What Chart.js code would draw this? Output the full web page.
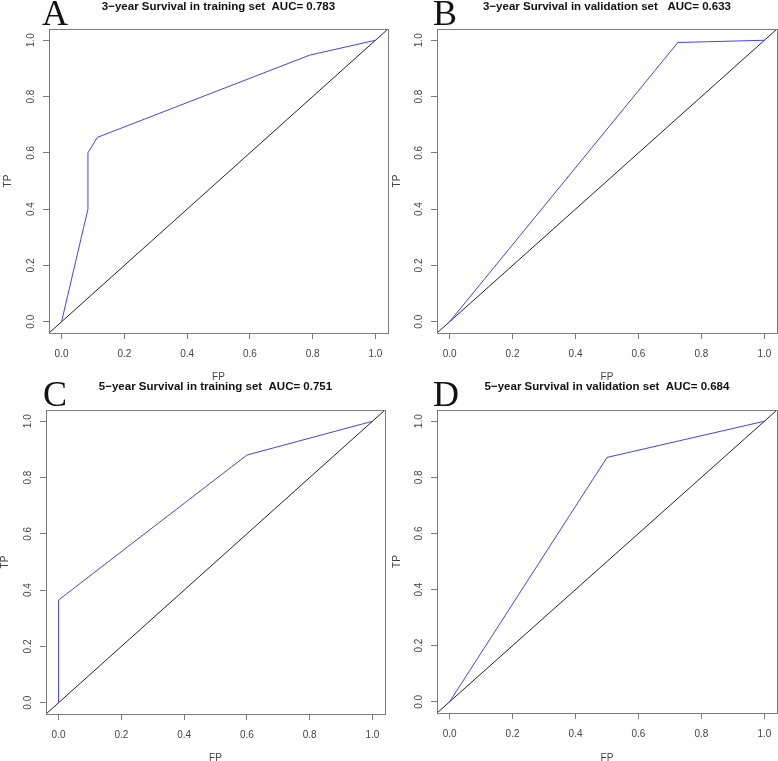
<!DOCTYPE html>
<html>
<head>
<meta charset="utf-8">
<script src="https://cdn.jsdelivr.net/npm/chart.js@4"></script>
<style>
  body { margin: 0; background: #fff; }
  .panel { position: absolute; }
</style>
</head>
<body>
<div class="panel" style="left:0;top:0"><canvas id="pA" width="389" height="380"></canvas></div>
<div class="panel" style="left:389px;top:0"><canvas id="pB" width="389" height="380"></canvas></div>
<div class="panel" style="left:0;top:380px"><canvas id="pC" width="389" height="381"></canvas></div>
<div class="panel" style="left:389px;top:380px"><canvas id="pD" width="389" height="381"></canvas></div>
<script>
// ROC points (FP rate, TP rate)
const fprA = [0, 0.084, 0.084, 0.114, 0.79, 1];
const tprA = [0, 0.40, 0.60, 0.655, 0.947, 1];
const fprB = [0, 0.725, 1];
const tprB = [0, 0.992, 1];
const fprC = [0, 0, 0.6, 1];
const tprC = [0, 0.365, 0.88, 1];
const fprD = [0, 0.5, 1];
const tprD = [0, 0.871, 1];

const axisTicks = [0, 0.2, 0.4, 0.6, 0.8, 1.0];
const axisRange = [-0.04, 1.04]; // R pads 4% each side
const titles = [
  "3\u2212year Survival in training set  AUC= 0.783",
  "3\u2212year Survival in validation set   AUC= 0.633",
  "5\u2212year Survival in training set  AUC= 0.751",
  "5\u2212year Survival in validation set  AUC= 0.684"
];
const letters = ["A", "B", "C", "D"];

const SANS = "'Liberation Sans', Arial, sans-serif";
const SERIF = "'Liberation Serif', 'Times New Roman', serif";

// box, y-labels, title and panel letter
const decor = {
  id: "rocDecor",
  afterDraw(chart, args, o) {
    const { ctx, chartArea: a, scales: { y } } = chart;
    ctx.save();
    ctx.strokeStyle = "#7a7a7a";
    ctx.lineWidth = 1;
    ctx.strokeRect(a.left + 0.5, a.top + 0.5, a.right - a.left, a.bottom - a.top);

    ctx.fillStyle = "#444";
    ctx.font = "10px " + SANS;
    ctx.textAlign = "center";
    ctx.textBaseline = "middle";
    y.ticks.forEach(t => {
      ctx.save();
      ctx.translate(a.left - 18, y.getPixelForValue(t.value));
      ctx.rotate(-Math.PI / 2);
      ctx.fillText(t.value.toFixed(1), 0, 0);
      ctx.restore();
    });

    ctx.fillStyle = "#111";
    ctx.font = "bold 11.5px " + SANS;
    ctx.fillText(o.title, (a.left + a.right) / 2, 7);

    ctx.font = "36px " + SERIF;
    ctx.textAlign = "left";
    ctx.textBaseline = "alphabetic";
    ctx.fillText(o.letter, o.lx, o.ly);
    ctx.restore();
  }
};

function rocChart(id, fpr, tpr, idx, box) {
  const pts = fpr.map((x, i) => ({ x: x, y: tpr[i] }));
  const diag = axisRange.map(v => ({ x: v, y: v }));
  const axisFont = { family: SANS, size: 10, lineHeight: 1 };
  return new Chart(document.getElementById(id), {
    type: "line",
    data: {
      datasets: [
        { data: pts, borderColor: "#4040ff", borderWidth: 1, pointRadius: 0, tension: 0 },
        { data: diag, borderColor: "#222", borderWidth: 1, pointRadius: 0 }
      ]
    },
    options: {
      responsive: false,
      animation: false,
      layout: { padding: { top: box.top, right: box.right, left: 0, bottom: 0 } },
      plugins: {
        legend: { display: false },
        tooltip: { enabled: false },
        rocDecor: { title: titles[idx], letter: letters[idx], lx: box.lx, ly: box.ly }
      },
      scales: {
        x: {
          type: "linear",
          min: axisRange[0],
          max: axisRange[1],
          afterBuildTicks: s => { s.ticks = axisTicks.map(v => ({ value: v })); },
          afterFit: s => { s.height = box.xh; s.paddingLeft = 0; s.paddingRight = 0; },
          grid: { drawOnChartArea: false, tickLength: 6, color: "#7a7a7a" },
          border: { display: false },
          ticks: { padding: 10.5, color: "#444", font: axisFont, maxRotation: 0, autoSkip: false,
                   callback: v => v.toFixed(1) },
          title: { display: true, text: "FP", color: "#444", font: axisFont, padding: { top: 0, bottom: -2.5 } }
        },
        y: {
          type: "linear",
          min: axisRange[0],
          max: axisRange[1],
          afterBuildTicks: s => { s.ticks = axisTicks.map(v => ({ value: v })); },
          afterFit: s => { s.width = box.yw; s.paddingTop = 0; s.paddingBottom = 0; },
          grid: { drawOnChartArea: false, tickLength: 6, color: "#7a7a7a" },
          border: { display: false },
          ticks: { display: false },
          title: { display: true, text: "TP", color: "#444", font: axisFont, padding: { top: box.tp, bottom: 0 } }
        }
      }
    },
    plugins: [decor]
  });
}

rocChart("pA", fprA, tprA, 0, { top: 29, right: 1, yw: 49, xh: 47, tp: 3, lx: 42, ly: 25 });
rocChart("pB", fprB, tprB, 1, { top: 29, right: 1, yw: 48, xh: 47, tp: 3, lx: 44, ly: 25 });
rocChart("pC", fprC, tprC, 2, { top: 30, right: 4, yw: 46, xh: 47, tp: 0.5, lx: 43, ly: 26 });
rocChart("pD", fprD, tprD, 3, { top: 30, right: 1, yw: 48, xh: 48, tp: 3, lx: 44, ly: 26 });
</script>
</body>
</html>
